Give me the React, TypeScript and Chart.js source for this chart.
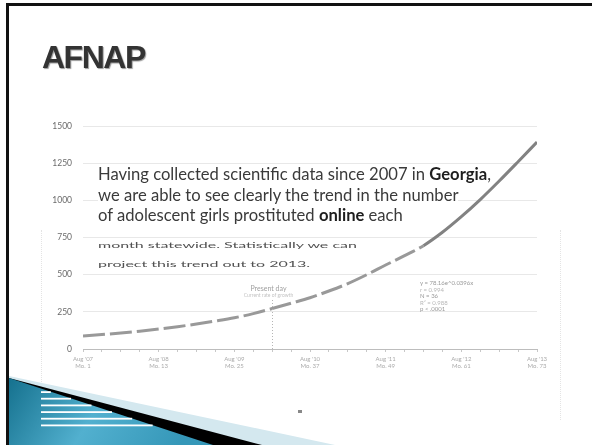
import React, { useEffect, useRef } from "react";
import { Chart, registerables } from "chart.js";

Chart.register(...registerables);

// Months since Aug 2007 (quarterly sampling of the trend curve)
const MONTHS = [0, 3, 6, 9, 12, 15, 18, 21, 24, 27, 30, 33, 36, 39, 42, 45, 48, 51, 54, 57, 60, 63, 66, 69, 72];
// Adolescent girls prostituted online per month
const GIRLS_ONLINE = [87, 97, 108, 120, 134, 150, 168, 188, 210, 238, 272, 308, 345, 390, 440, 500, 565, 628, 695, 785, 890, 1005, 1130, 1260, 1392];
const YEAR_LABELS = ["Aug '07", "Aug '08", "Aug '09", "Aug '10", "Aug '11", "Aug '12", "Aug '13"];
const SUB_LABELS = ["Mo. 1", "Mo. 13", "Mo. 25", "Mo. 37", "Mo. 49", "Mo. 61", "Mo. 73"];
const Y_MIN = 0;
const Y_MAX = 1500;
const Y_STEP = 250;
const PRESENT_MONTH = 30;
const PRESENT_TOP = 330;
const EQUATION_LINES = ["y = 78.16e^0.0396x", "r = 0.994", "N = 36", "R² = 0.988", "p < .0001"];
const PARAGRAPH = [
  ["Having collected scientific data since 2007 in ", "Georgia", ","],
  ["we are able to see clearly the trend in the number", "", ""],
  ["of adolescent girls prostituted ", "online", " each"],
];
const PARAGRAPH_CLIPPED = ["month statewide. Statistically we can", "project this trend out to 2013."];

export default function App() {
  const ref = useRef<HTMLCanvasElement>(null);

  useEffect(() => {
    const presentPlugin = {
      id: "presentDay",
      afterDatasetsDraw(chart: any) {
        const { ctx, scales } = chart;
        const x = scales.x;
        const y = scales.y;
        const px = Math.round(x.getPixelForValue(PRESENT_MONTH)) + 0.5;
        ctx.save();
        ctx.setLineDash([1, 2]);
        ctx.strokeStyle = "#b5b5b5";
        ctx.lineWidth = 1;
        ctx.beginPath();
        ctx.moveTo(px, y.getPixelForValue(0));
        ctx.lineTo(px, y.getPixelForValue(PRESENT_TOP));
        ctx.stroke();
        ctx.setLineDash([]);
        ctx.fillStyle = "#a0a0a0";
        ctx.font = "7px Lato";
        ctx.textAlign = "center";
        ctx.fillText("Present day", px - 4, y.getPixelForValue(PRESENT_TOP) - 9);
        ctx.fillStyle = "#c4c4c4";
        ctx.font = "5px Lato";
        ctx.fillText("Current rate of growth", px - 4, y.getPixelForValue(PRESENT_TOP) - 3);
        ctx.restore();
      },
    };

    const chart = new Chart(ref.current as HTMLCanvasElement, {
      type: "line",
      data: {
        datasets: [
          {
            data: MONTHS.map((m, i) => ({ x: m, y: GIRLS_ONLINE[i] })),
            borderColor: "#8a8a8a",
            borderWidth: 3,
            pointRadius: 0,
            cubicInterpolationMode: "monotone",
            segment: {
              borderDash: (c: any) => (c.p0.parsed.x < 54 ? [22, 5] : undefined),
              borderColor: (c: any) => (c.p0.parsed.x < 54 ? "#999" : "#828282"),
            },
          },
        ],
      },
      options: {
        responsive: false,
        animation: false,
        layout: { padding: { top: 126, right: 55, left: 0, bottom: 0 } },
        plugins: { legend: { display: false }, tooltip: { enabled: false } },
        scales: {
          x: {
            type: "linear",
            min: 0,
            max: 72,
            afterFit: (s: any) => {
              s.height = 445 - 349;
            },
            ticks: {
              stepSize: 3,
              autoSkip: false,
              maxRotation: 0,
              padding: 3,
              color: "#ababab",
              font: { size: 6, family: "Lato" },
              callback: (v: any) => (v % 12 === 0 ? [YEAR_LABELS[v / 12], SUB_LABELS[v / 12]] : ""),
            },
            grid: { drawOnChartArea: false, tickLength: 3, color: "#c8c8c8" },
            border: { color: "#bdbdbd" },
          },
          y: {
            min: Y_MIN,
            max: Y_MAX,
            afterFit: (s: any) => {
              s.width = 83;
            },
            ticks: {
              stepSize: Y_STEP,
              padding: 11,
              color: "#6a6a6a",
              font: { size: 8.5, family: "Lato" },
              callback: (v: any) => String(v),
            },
            grid: { color: "#e8e8e8", drawTicks: false },
            border: { display: false },
          },
        },
      },
      plugins: [presentPlugin],
    } as any);
    return () => chart.destroy();
  }, []);

  const strips = [392, 398.6, 405.3, 412, 418.6, 425.3];

  return (
    <div
      style={{
        position: "fixed",
        left: 0,
        top: 0,
        width: 592,
        height: 445,
        background: "#fff",
        overflow: "hidden",
      }}
    >
      <canvas ref={ref} width={592} height={445} style={{ position: "absolute", left: 0, top: 0, display: "block" }} />

      {/* faint dotted frame of pasted chart image */}
      <div style={{ position: "absolute", left: 41, top: 230, height: 190, borderLeft: "1px dotted #e4e4e4" }} />
      <div style={{ position: "absolute", left: 560, top: 230, height: 190, borderLeft: "1px dotted #e4e4e4" }} />

      {/* slide border */}
      <div style={{ position: "absolute", left: 6, top: 3, width: 600, height: 460, borderTop: "3px solid #111", borderLeft: "3px solid #111" }} />

      {/* title */}
      <div
        style={{
          position: "absolute",
          left: 42,
          top: 41,
          fontFamily: "'Liberation Sans', Arial, sans-serif",
          fontWeight: 700,
          fontSize: 32,
          lineHeight: "32px",
          letterSpacing: "-1.5px",
          color: "#333",
          textShadow: "1px 1px 1px #9a9a9a",
          whiteSpace: "nowrap",
        }}
      >
        AFNAP
      </div>

      {/* overlay paragraph */}
      {PARAGRAPH.map((ln, i) => (
        <div
          key={i}
          style={{
            position: "absolute",
            left: 98,
            top: 164 + i * 20.5,
            fontFamily: "Lato, sans-serif",
            fontSize: 16.6,
            lineHeight: "20px",
            color: "#3a3a3a",
            whiteSpace: "nowrap",
            background: "#fff",
          }}
        >
          {ln[0]}
          {ln[1] ? <b style={{ color: "#1e1e1e" }}>{ln[1]}</b> : null}
          {ln[2]}
        </div>
      ))}
      {PARAGRAPH_CLIPPED.map((t, i) => (
        <div
          key={"c" + i}
          style={{
            position: "absolute",
            left: 98,
            top: 230 + i * 19,
            fontFamily: "Lato, sans-serif",
            fontSize: 16,
            lineHeight: "20px",
            color: "#505050",
            whiteSpace: "nowrap",
            transform: "scaleY(0.45)",
            transformOrigin: "0 100%",
          }}
        >
          {t}
        </div>
      ))}

      {/* regression equation box */}
      {EQUATION_LINES.map((t, i) => (
        <div
          key={"e" + i}
          style={{
            position: "absolute",
            left: 420,
            top: 280 + i * 6.5,
            fontFamily: "Lato, sans-serif",
            fontSize: 6,
            lineHeight: "6px",
            color: i % 2 === 0 ? "#9a9a9a" : "#b8b8b8",
            whiteSpace: "nowrap",
          }}
        >
          {t}
        </div>
      ))}

      {/* decorative corner */}
      <svg width={592} height={445} style={{ position: "absolute", left: 0, top: 0 }}>
        <defs>
          <linearGradient id="teal" x1="0" y1="0" x2="1" y2="0.2">
            <stop offset="0" stopColor="#15718e" />
            <stop offset="0.5" stopColor="#52b0cf" />
            <stop offset="1" stopColor="#3597b8" />
          </linearGradient>
        </defs>
        <polygon points="9,376 335,445 9,445" fill="#d4e8ef" />
        <polygon points="9,378 262,445 9,445" fill="#000" />
        <polygon points="9,378 213,445 9,445" fill="url(#teal)" />
        {strips.map((y, i) => (
          <rect key={i} x={41} y={y - 0.8} width={8 + (y - 378) / 0.327 - 41} height={1.8} fill="#fff" />
        ))}
        <rect x={298} y={410} width={4} height={3} fill="#888" />
      </svg>
    </div>
  );
}
